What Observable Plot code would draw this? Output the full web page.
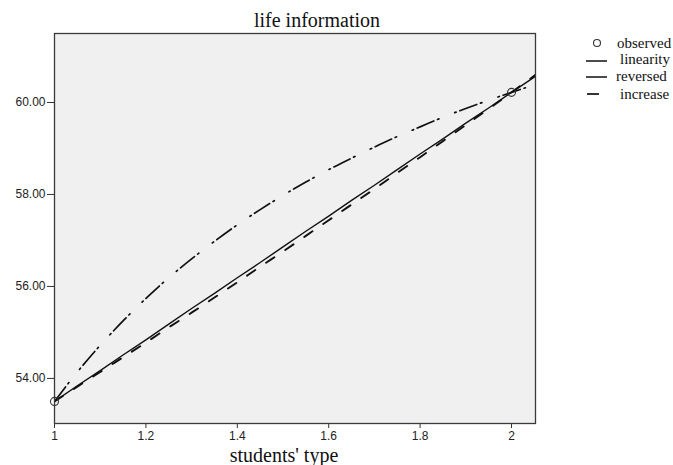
<!DOCTYPE html>
<html>
<head>
<meta charset="utf-8">
<script src="https://cdn.jsdelivr.net/npm/d3@7"></script>
<script src="https://cdn.jsdelivr.net/npm/@observablehq/plot@0.6"></script>
<style>
  html, body { margin: 0; padding: 0; background: #fff; }
  #wrap { position: relative; width: 673px; height: 465px; overflow: hidden; }
  #wrap svg { position: absolute; left: 0; top: 0; }
  .serif { font-family: "Liberation Serif", "Times New Roman", serif; color: #111; position: absolute; white-space: nowrap; }
</style>
</head>
<body>
<div id="wrap">
  <div class="serif" id="title" style="left:0;width:634px;text-align:center;top:10px;font-size:20px;line-height:20px;">life information</div>
  <div class="serif" id="xlabel" style="left:0;width:568px;text-align:center;top:445px;font-size:20px;line-height:20px;">students' type</div>
</div>
<script>
// ---- data ----
const xValues   = [1.00, 1.05, 1.10, 1.15, 1.20, 1.25, 1.30, 1.35, 1.40, 1.45, 1.50, 1.55, 1.60, 1.65, 1.70, 1.75, 1.80, 1.85, 1.90, 1.95, 2.00, 2.0525];
const linearity = [53.50, 53.84, 54.17, 54.51, 54.84, 55.18, 55.52, 55.85, 56.19, 56.52, 56.86, 57.20, 57.53, 57.87, 58.20, 58.54, 58.88, 59.21, 59.55, 59.88, 60.22, 60.57];
const reversed  = [53.50, 54.14, 54.72, 55.25, 55.74, 56.19, 56.60, 56.98, 57.34, 57.67, 57.98, 58.27, 58.54, 58.79, 59.03, 59.26, 59.47, 59.68, 59.87, 60.05, 60.22, 60.39];
const increase  = [53.50, 53.82, 54.14, 54.46, 54.78, 55.11, 55.43, 55.76, 56.09, 56.43, 56.76, 57.10, 57.44, 57.78, 58.12, 58.47, 58.81, 59.16, 59.51, 59.86, 60.22, 60.60];
const observedX = [1, 2];
const observedY = [53.50, 60.22];
const xTicks = [1, 1.2, 1.4, 1.6, 1.8, 2];
const yTicks = [54, 56, 58, 60];
const legendLabels = ["observed", "linearity", "reversed", "increase"];

const table = xValues.map((x, i) => ({x, linearity: linearity[i], reversed: reversed[i], increase: increase[i]}));
const obs = observedX.map((x, i) => ({x, y: observedY[i]}));

const chart = Plot.plot({
  width: 673, height: 465,
  marginLeft: 54, marginRight: 138, marginTop: 33, marginBottom: 42,
  style: {background: "transparent", fontFamily: "'Liberation Sans', Arial, sans-serif", fontSize: "12px", color: "#222"},
  x: {domain: [1, 2.0525]},
  y: {domain: [53.02, 61.5]},
  marks: [
    Plot.frame({fill: "#f0f0f0", stroke: null}),
    Plot.axisX({ticks: xTicks, tickFormat: d => String(d), tickSize: 5, tickPadding: 3, label: null, stroke: "#333"}),
    Plot.axisY({ticks: yTicks, tickFormat: d3.format(".2f"), tickSize: 7, tickPadding: 2, label: null, stroke: "#333"}),
    Plot.line(table, {x: "x", y: "reversed", curve: "monotone-x", stroke: "#111", strokeWidth: 1.7, strokeDasharray: "18,4,1.5,17,1.5,4", clip: true}),
    Plot.line(table, {x: "x", y: "increase", curve: "monotone-x", stroke: "#111", strokeWidth: 1.9, strokeDasharray: "10,13", clip: true}),
    Plot.line(table, {x: "x", y: "linearity", stroke: "#111", strokeWidth: 1.4, clip: true}),
    Plot.dot(obs, {x: "x", y: "y", r: 4, stroke: "#333", strokeWidth: 1.1, fill: "none"}),
    Plot.frame({stroke: "#3a3a3a", strokeWidth: 1.3})
  ]
});
document.getElementById("wrap").prepend(chart);

// ---- legend ----
const lg = d3.select("#wrap").append("svg")
  .attr("width", 673).attr("height", 465)
  .style("pointer-events", "none");
const lfont = "'Liberation Serif', 'Times New Roman', serif";
lg.append("circle").attr("cx", 597).attr("cy", 43).attr("r", 3.5).attr("fill", "none").attr("stroke", "#333").attr("stroke-width", 1.1);
lg.append("line").attr("x1", 586).attr("x2", 607).attr("y1", 61).attr("y2", 61).attr("stroke", "#111").attr("stroke-width", 1.5);
lg.append("line").attr("x1", 586).attr("x2", 607).attr("y1", 77).attr("y2", 77).attr("stroke", "#111").attr("stroke-width", 1.5);
lg.append("line").attr("x1", 587).attr("x2", 599).attr("y1", 94).attr("y2", 94).attr("stroke", "#111").attr("stroke-width", 1.7);
const lx = [617, 620, 616, 620];
const ly = [47.5, 64, 81, 99];
legendLabels.forEach((t, i) => {
  lg.append("text").attr("x", lx[i]).attr("y", ly[i]).text(t)
    .attr("font-family", lfont).attr("font-size", 15).attr("fill", "#111");
});
</script>
</body>
</html>
